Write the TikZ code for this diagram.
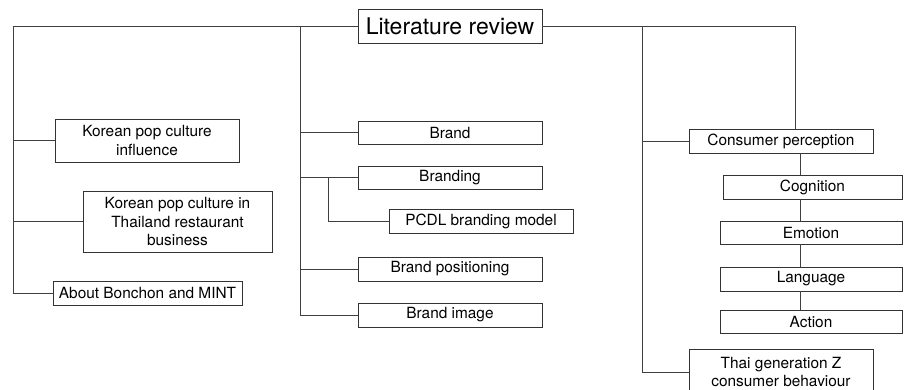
\documentclass[tikz,border=0pt]{standalone}
\usepackage{fontspec}
\setmainfont{TeX Gyre Heros}

\tikzset{
    topic/.style={draw=black!80, line width=0.7pt, inner sep=0pt, align=center,
        font=\fontsize{15.4}{18.2}\selectfont},
    link/.style={draw=black!75, line width=0.7pt},
}

\begin{document}
\begin{tikzpicture}[x=1pt, y=-1pt]
    \useasboundingbox (0,0) rectangle (904,389);
    % title
    \node[topic, minimum width=184, minimum height=34, font=\fontsize{23}{26}\selectfont]
        (review) at (450,26) {Literature review};
    % left branch
    \node[topic, minimum width=184, minimum height=43] (kinfl) at (147,140.5)
        {Korean pop culture\\influence};
    \node[topic, minimum width=189, minimum height=61] (kthai) at (177.5,221.5)
        {Korean pop culture in\\Thailand restaurant\\business};
    \node[topic, minimum width=189, minimum height=24] (about) at (147.5,293)
        {About Bonchon and MINT};
    % middle branch
    \node[topic, minimum width=184, minimum height=23] (brand) at (450,132.5) {Brand};
    \node[topic, minimum width=184, minimum height=23] (branding) at (450,177.5) {Branding};
    \node[topic, minimum width=184, minimum height=24] (pcdl) at (481,221) {PCDL branding model};
    \node[topic, minimum width=184, minimum height=24] (brandpos) at (450,269) {Brand positioning};
    \node[topic, minimum width=184, minimum height=24] (brandimg) at (450,315) {Brand image};
    % right branch
    \node[topic, minimum width=184, minimum height=24] (perception) at (781,141) {Consumer perception};
    \node[topic, minimum width=179, minimum height=24] (cognition) at (812.5,187) {Cognition};
    \node[topic, minimum width=182, minimum height=23] (emotion) at (811,232.5) {Emotion};
    \node[topic, minimum width=182, minimum height=24] (language) at (811,279) {Language};
    \node[topic, minimum width=182, minimum height=23] (action) at (811,321.5) {Action};
    \node[topic, minimum width=184, minimum height=46] (genz) at (781,372)
        {Thai generation Z\\consumer behaviour};

    \coordinate (lbus) at (13,26);
    \coordinate (mbus) at (300,26);
    \coordinate (sbus) at (328,177.5);
    \coordinate (rbus) at (642,26);
    \coordinate (pbus) at (795,26);
    \coordinate (chain) at (800,0);

    \draw[link] (review.west) -- (lbus) |- (about.west);
    \draw[link] (lbus |- kinfl.west) -- (kinfl.west);
    \draw[link] (lbus |- kthai.west) -- (kthai.west);

    \draw[link] (mbus) |- (brandimg.west);
    \draw[link] (mbus |- brand.west) -- (brand.west);
    \draw[link] (mbus |- branding.west) -- (branding.west);
    \draw[link] (mbus |- brandpos.west) -- (brandpos.west);
    \draw[link] (sbus) |- (pcdl.west);

    \draw[link] (review.east) -- (pbus) -- (pbus |- perception.north);
    \draw[link] (rbus) |- (genz.west);
    \draw[link] (rbus |- perception.west) -- (perception.west);
    \draw[link] (chain |- perception.south) -- (chain |- cognition.north);
    \draw[link] (chain |- cognition.south) -- (chain |- emotion.north);
    \draw[link] (chain |- emotion.south) -- (chain |- language.north);
    \draw[link] (chain |- language.south) -- (chain |- action.north);
\end{tikzpicture}
\end{document}
